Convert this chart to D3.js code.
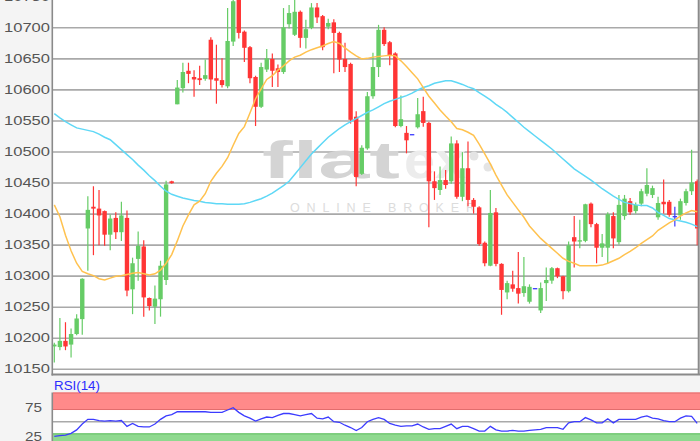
<!DOCTYPE html>
<html><head><meta charset="utf-8">
<script src="https://cdn.jsdelivr.net/npm/d3@7/dist/d3.min.js"></script>
<style>html,body{margin:0;padding:0;background:#f4f4f4;overflow:hidden}</style>
</head><body><svg id="c" width="700" height="441"></svg>
<script>
// ---- data ----
const openP  = [10186,10185,10195,10189,10206,10230,10376,10411,10408,10404,10366,10393,10370,10393,10278,10327,10347,10264,10250,10262,10293,10452,
 10576,10602,10630,10620,10618,10617,10680,10618,10615,10605,10677,10744,10693,10668,10620,10572,10632,10649,10634,10628,10705,10688,10725,10683,10699,10732,10718,10701,10708,10691,10649,
 10641,10556,10464,10505,10589,10636,10696,10676,10658,10541,10530,10527,10539,10565,10546,10452,10438,10454,10452,10513,10427,10473,10422,10410,10353,10316,10402,10319,
 10273,10286,10280,10272,10258,10279,10244,10288,10292,10312,10299,10275,10362,10355,10356,10416,10383,10345,10345,10396,10354,10396,10420,10404,10416,10432,10430,10394,10419,10419,10395,10397,10417,10436,10452];
const highP  = [10192,10232,10225,10215,10238,10296,10428,10444,10438,10405,10398,10402,10419,10405,10329,10371,10357,10265,10284,10324,10453,10453,
 10615,10643,10643,10631,10638,10648,10684,10672,10650,10731,10748,10750,10695,10670,10622,10643,10665,10658,10640,10731,10736,10748,10727,10712,10739,10739,10720,10714,10713,10693,10675,
 10643,10565,10510,10596,10659,10704,10700,10678,10660,10590,10541,10527,10586,10588,10548,10468,10476,10470,10524,10518,10499,10516,10425,10412,10355,10438,10409,10320,
 10292,10308,10338,10330,10286,10279,10289,10313,10314,10313,10300,10355,10396,10390,10416,10418,10385,10367,10402,10402,10430,10430,10425,10418,10440,10473,10445,10427,10455,10422,10411,10424,10440,10503,10455];
const lowP   = [10160,10180,10180,10168,10204,10205,10308,10333,10349,10348,10341,10359,10356,10267,10238,10292,10234,10244,10222,10234,10285,10448,
 10576,10595,10610,10588,10607,10614,10599,10577,10603,10602,10670,10682,10644,10610,10541,10570,10628,10604,10604,10625,10698,10686,10667,10666,10697,10707,10663,10697,10626,10628,10628,
 10545,10444,10462,10503,10585,10620,10670,10639,10539,10539,10497,10527,10537,10540,10378,10422,10430,10440,10448,10424,10420,10412,10400,10348,10315,10315,10315,10237,
 10262,10274,10255,10266,10255,10279,10240,10259,10287,10296,10262,10273,10313,10344,10354,10378,10320,10330,10320,10344,10350,10390,10398,10400,10412,10428,10425,10390,10400,10395,10379,10390,10413,10430,10349];
const closeP = [10189,10195,10186,10206,10231,10295,10406,10408,10397,10366,10392,10370,10397,10276,10320,10348,10265,10251,10263,10316,10447,10449,
 10603,10628,10625,10616,10615,10623,10616,10614,10607,10678,10742,10691,10667,10618,10572,10636,10650,10630,10628,10700,10723,10725,10683,10697,10732,10716,10668,10707,10691,10648,10636,
 10551,10459,10506,10589,10636,10696,10673,10655,10541,10552,10518,10527,10560,10546,10452,10441,10454,10446,10513,10427,10473,10422,10411,10351,10320,10401,10319,10277,
 10288,10279,10271,10283,10282,10279,10280,10293,10312,10299,10275,10349,10355,10357,10415,10383,10345,10352,10399,10360,10414,10424,10402,10414,10436,10446,10441,10417,10415,10398,10395,10420,10436,10450,10376];
const maFast = [10414,10395,10365,10340,10320,10307,10303,10300,10295,10293,10296,10299,10300,10302,10304,10305,10303,10301,10303,10309,10320,10334,
 10356,10380,10398,10414,10420,10432,10452,10465,10476,10490,10510,10529,10540,10562,10585,10601,10616,10622,10631,10638,10646,10652,10655,10660,10664,10667,10670,10674,10677,10674,10667,
 10660,10654,10649,10650,10652,10653,10654,10655,10654,10646,10637,10627,10617,10603,10589,10578,10567,10557,10548,10537,10535,10531,10526,10512,10496,10480,10462,10446,
 10430,10418,10406,10394,10380,10370,10360,10352,10344,10336,10328,10323,10320,10316,10316,10316,10316,10317,10320,10324,10328,10334,10339,10345,10352,10358,10364,10373,10379,10385,10390,10396,10401,10405,10403];
const maSlow = [10561,10554,10548,10543,10538,10536,10534,10532,10528,10523,10519,10511,10503,10495,10487,10478,10470,10461,10453,10444,10436,10431,
 10428,10425,10423,10421,10420,10418,10417,10416,10416,10415,10415,10415,10416,10418,10421,10424,10428,10433,10439,10445,10452,10463,10474,10485,10496,10505,10514,10523,10530,10537,10543,
 10548,10553,10558,10563,10567,10572,10577,10581,10584,10587,10590,10594,10599,10603,10606,10610,10612,10614,10614,10611,10608,10604,10601,10595,10589,10583,10576,10570,
 10563,10555,10547,10539,10532,10525,10518,10511,10504,10496,10488,10480,10472,10466,10460,10454,10447,10440,10434,10428,10423,10418,10416,10414,10413,10413,10409,10402,10397,10392,10390,10388,10386,10383,10379];
const rsi = [25,26,27,30,36,46,54,54,52,51,52,51,52,42,47,42,41,41,46,54,60,62,
 67,67,67,67,67,67,66,66,66,70,74,66,60,56,51,55,58,57,61,64,64,62,60,62,64,56,55,58,50,49,44,
 40,35,40,50,54,57,54,47,44,42,43,43,46,41,37,38,38,42,46,38,42,42,38,34,34,42,36,34,
 34,35,34,34,35,36,37,40,40,40,37,48,50,50,57,53,48,48,55,48,54,54,54,54,58,60,56,55,52,50,50,56,60,59,47];
const priceTicks = [10150,10200,10250,10300,10350,10400,10450,10500,10550,10600,10650,10700,10750];
const rsiTicks = [25,75];
const rsiTitle = "RSI(14)";

// ---- drawing ----
const svg = d3.select("#c");
const font = "'Liberation Sans', Arial, sans-serif";
const L = 53, R = 698, mainBottom = 375, rsiTop = 392.5;
const n = openP.length;
const x = d3.scaleLinear().domain([0, n - 1]).range([54.3, 697.2]);
const y = d3.scaleLinear().domain([10140, 10744]).range([mainBottom, 0]);
const ry = d3.scaleLinear().domain([0, 100]).range([450.9, rsiTop]);

// plot backgrounds
svg.append("rect").attr("x", L).attr("y", -5).attr("width", R - L).attr("height", mainBottom + 5).attr("fill", "#fff");
svg.append("rect").attr("x", L).attr("y", rsiTop).attr("width", R - L + 2).attr("height", 60).attr("fill", "#fff");

// grid + labels
const ax = d3.axisLeft(y).tickValues(priceTicks).tickSize(-(R - L)).tickPadding(3).tickFormat(d3.format("d"));
const gA = svg.append("g").attr("transform", `translate(${L},0)`).call(ax);
gA.select(".domain").remove();
gA.selectAll(".tick line").attr("stroke", "#a9a9a9").attr("stroke-width", 1.6);
gA.selectAll(".tick text").attr("fill", "#555").attr("font-size", 13).attr("font-family", font)
  .attr("textLength", 46).attr("lengthAdjust", "spacingAndGlyphs");

// watermark
const wm = svg.append("g");
wm.append("text").attr("x", 262).attr("y", 178).attr("font-size", 52).attr("font-weight", "bold")
  .attr("font-family", font).attr("fill", "#d4d4d4").attr("textLength", 138).attr("lengthAdjust", "spacingAndGlyphs").text("flat");
wm.append("text").attr("x", 404).attr("y", 178).attr("font-size", 52).attr("font-weight", "bold")
  .attr("font-family", font).attr("fill", "#ececec").attr("textLength", 62).attr("lengthAdjust", "spacingAndGlyphs").text("ex");
wm.append("circle").attr("cx", 474).attr("cy", 156).attr("r", 4.5).attr("fill", "#e4e4e4");
wm.append("circle").attr("cx", 488).attr("cy", 167).attr("r", 4.5).attr("fill", "#e4e4e4");
wm.append("text").attr("x", 290).attr("y", 212).attr("font-size", 12.5).attr("font-family", font)
  .attr("fill", "#dcdcdc").attr("textLength", 185).attr("lengthAdjust", "spacing").text("ONLINE BROKER");

// candles
const green = "#66cc66", red = "#ff3535", doji = "#3a3aff", bw = 4.4;
const cg = svg.append("g");
d3.range(n).forEach(i => {
  const o = openP[i], c = closeP[i], h = highP[i], l = lowP[i];
  const col = o === c ? doji : (c > o ? green : red);
  if (h > l) cg.append("line").attr("x1", x(i)).attr("x2", x(i)).attr("y1", y(h)).attr("y2", y(l))
    .attr("stroke", col).attr("stroke-width", 1.2);
  const top = y(Math.max(o, c)), hh = Math.max(1.3, Math.abs(y(o) - y(c)));
  cg.append("rect").attr("x", x(i) - bw / 2).attr("y", o === c ? y(o) - 0.65 : top)
    .attr("width", bw).attr("height", hh).attr("fill", col);
});

// moving averages
const line = d3.line().x((d, i) => x(i)).y(d => y(d));
svg.append("path").datum(maSlow).attr("d", line).attr("fill", "none").attr("stroke", "#5fd8f6").attr("stroke-width", 1.5);
svg.append("path").datum(maFast).attr("d", line).attr("fill", "none").attr("stroke", "#ffc24f").attr("stroke-width", 1.5);

// frame of main pane
svg.append("line").attr("x1", L - 0.7).attr("x2", L - 0.7).attr("y1", 0).attr("y2", mainBottom + 0.5).attr("stroke", "#8a8a8a").attr("stroke-width", 1.6);
svg.append("line").attr("x1", L - 1.5).attr("x2", 700).attr("y1", mainBottom - 0.5).attr("y2", mainBottom - 0.5).attr("stroke", "#8a8a8a").attr("stroke-width", 2);
svg.append("line").attr("x1", R + 0.7).attr("x2", R + 0.7).attr("y1", 0).attr("y2", mainBottom).attr("stroke", "#8a8a8a").attr("stroke-width", 2);

// RSI pane
svg.append("rect").attr("x", L).attr("y", ry(100)).attr("width", 700 - L).attr("height", ry(70) - ry(100)).attr("fill", "#ff8a8a");
svg.append("line").attr("x1", L).attr("x2", 700).attr("y1", ry(100) + 0.5).attr("y2", ry(100) + 0.5).attr("stroke", "#e26d6d").attr("stroke-width", 1.2);
svg.append("line").attr("x1", L).attr("x2", 700).attr("y1", ry(70) - 0.5).attr("y2", ry(70) - 0.5).attr("stroke", "#e26d6d").attr("stroke-width", 1.2);
svg.append("rect").attr("x", L).attr("y", ry(30)).attr("width", 700 - L).attr("height", 20).attr("fill", "#8fd98f");
svg.append("line").attr("x1", L).attr("x2", 700).attr("y1", ry(30) + 0.5).attr("y2", ry(30) + 0.5).attr("stroke", "#6cc56c").attr("stroke-width", 1.2);
svg.append("line").attr("x1", L).attr("x2", 700).attr("y1", ry(50)).attr("y2", ry(50)).attr("stroke", "#a9a9a9").attr("stroke-width", 1.6);

const rax = d3.axisLeft(ry).tickValues(rsiTicks).tickSize(0).tickPadding(11);
const gR = svg.append("g").attr("transform", `translate(${L},0)`).call(rax);
gR.select(".domain").remove();
gR.selectAll(".tick text").attr("fill", "#555").attr("font-size", 13).attr("font-family", font)
  .attr("textLength", 17).attr("lengthAdjust", "spacingAndGlyphs");

const rl = d3.line().x((d, i) => x(i)).y(d => ry(d));
svg.append("path").datum(rsi).attr("d", rl).attr("fill", "none").attr("stroke", "#3c3cff").attr("stroke-width", 1.3);

svg.append("line").attr("x1", L - 0.7).attr("x2", L - 0.7).attr("y1", rsiTop).attr("y2", 441).attr("stroke", "#8a8a8a").attr("stroke-width", 1.6);
svg.append("text").attr("x", 54).attr("y", 389.5).attr("font-size", 12.5).attr("font-family", font)
  .attr("fill", "#2d2dff").attr("textLength", 46).attr("lengthAdjust", "spacingAndGlyphs").text(rsiTitle);
</script></body></html>
